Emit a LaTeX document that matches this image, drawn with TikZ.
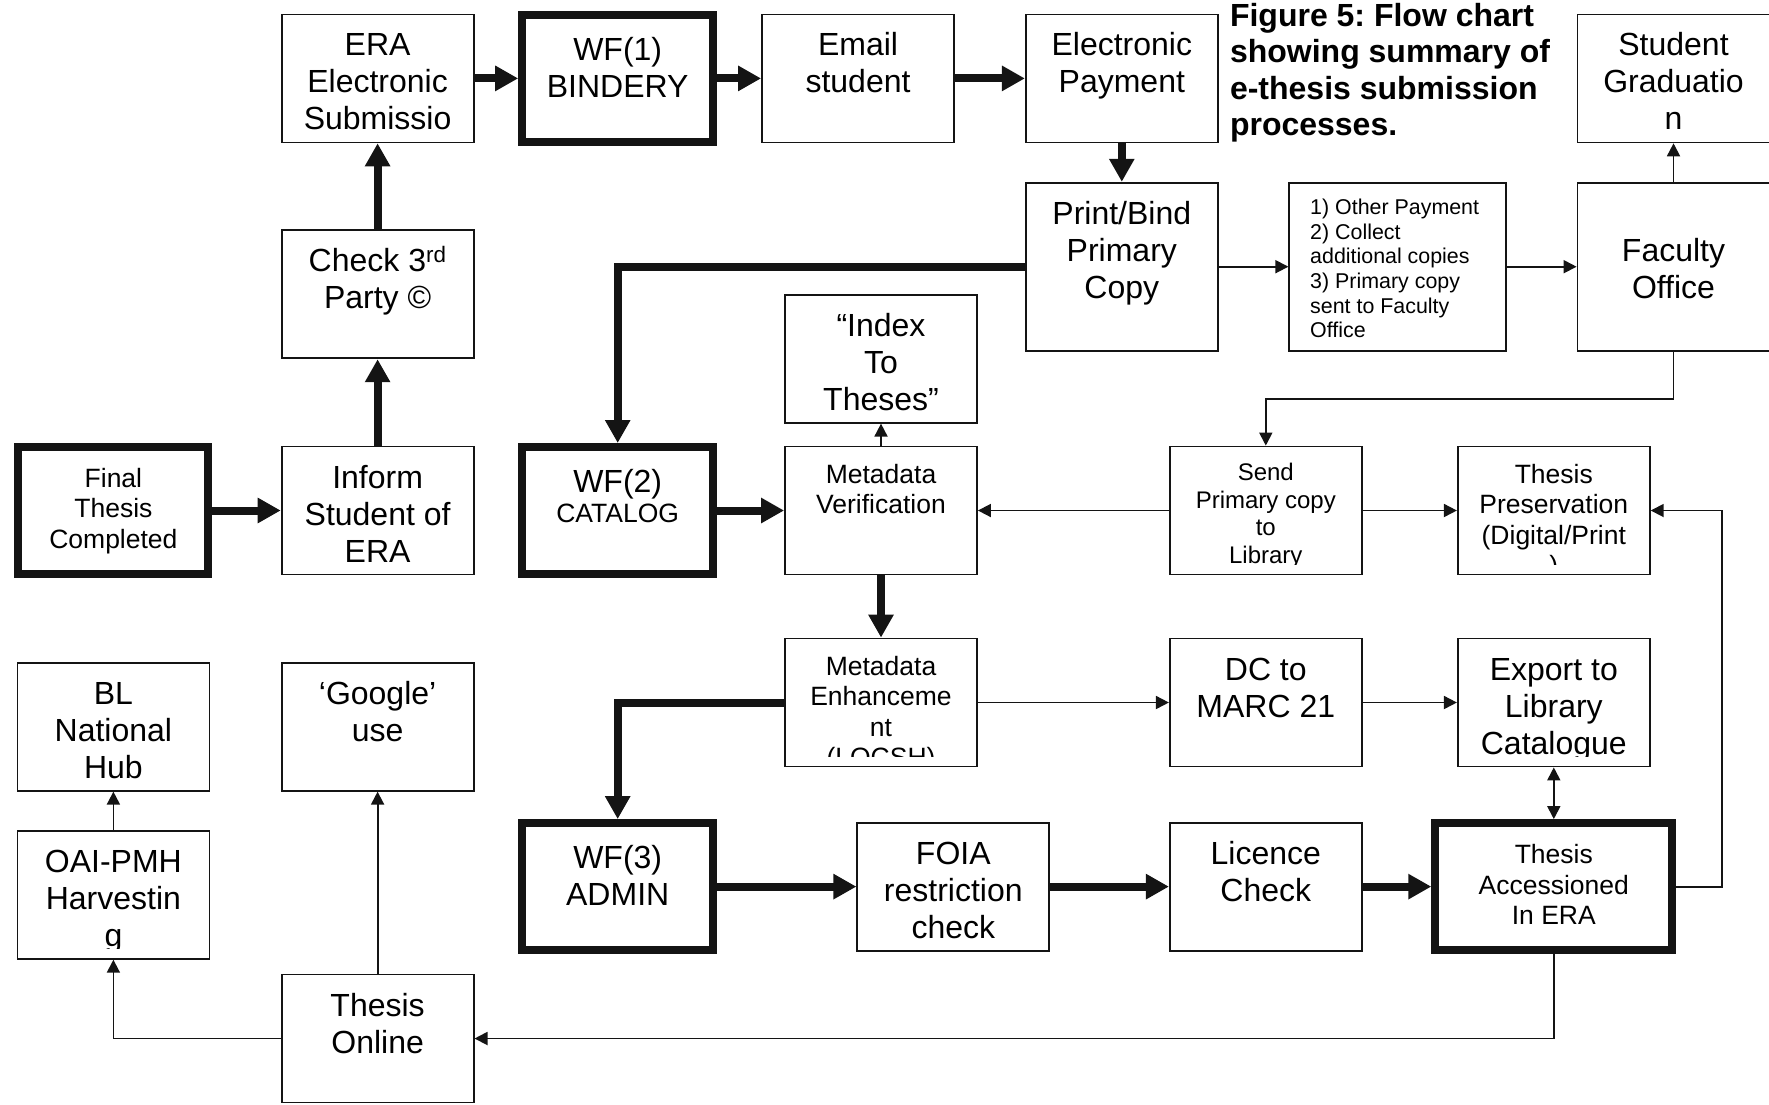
\documentclass[tikz,border=0pt]{standalone}
\usepackage{fontspec}
\setmainfont{Liberation Sans}
\usepackage{tikz}
\usetikzlibrary{arrows.meta,calc}
\frenchspacing
\definecolor{flowInk}{RGB}{20,20,20}
\newcommand{\flowbig}{\fontsize{32}{37}\selectfont}
\newcommand{\flowsmall}{\fontsize{26.5}{30.5}\selectfont}
\newcommand{\flowmid}{\fontsize{24}{27.4}\selectfont}
\newcommand{\flowtiny}{\fontsize{21.4}{24.6}\selectfont}
\newcommand{\flowcap}{\fontsize{32}{36.5}\selectfont\bfseries}
\newcommand{\flowbox}[5][]{%
  \node[box,#1] (#2) at #3 {};
  \begin{scope}
    \clip (#2.north west) rectangle ([yshift=11pt]#2.south east);
    \node[boxtext,#4] (#2-text) at (#2.north) {\rule{0pt}{.9em}#5};
  \end{scope}
}

\begin{document}
\begin{tikzpicture}[x=1pt,y=-1pt,
  box/.style={draw=flowInk,line width=1.8pt,minimum width=192pt,minimum height=128pt,inner sep=0pt},
  thickbox/.style={box,line width=8pt,minimum width=191pt,minimum height=127pt},
  boxtext/.style={anchor=north,align=center,inner sep=0pt,yshift=-13.4pt,font=\flowbig,text=black},
  flow/.style={draw=flowInk,line width=8pt,-{Triangle[length=23pt,width=24pt]}},
  link/.style={draw=flowInk,line width=1.8pt,-{Triangle[length=13pt,width=13pt]}},
  linkboth/.style={link,{Triangle[length=13pt,width=13pt]}-{Triangle[length=13pt,width=13pt]}}]
  \useasboundingbox (0,0) rectangle (1769,1104);
  \flowbox{era}{(377.6,78.4)}{}{ERA\\Electronic\\Submissio}
  \flowbox[thickbox]{wf1}{(617.7,78.4)}{yshift=-7pt}{WF(1)\\BINDERY}
  \flowbox{email}{(858,78.4)}{}{Email\\student}
  \flowbox{epay}{(1121.8,78.4)}{}{Electronic\\Payment}
  \flowbox{grad}{(1673.5,78.4)}{}{Student\\Graduatio\\n}
  \node[anchor=north west,align=left,inner sep=0pt,font=\flowcap] (caption) at (1229.8,3)
    {Figure 5: Flow chart\\showing summary of\\e-thesis submission\\processes.};
  \flowbox[minimum height=168pt]{print}{(1121.8,266.7)}{}{Print/Bind\\Primary\\Copy}
  \flowbox[minimum width=216.6pt,minimum height=168pt]{other}{(1397.6,266.7)}
    {anchor=north west,align=left,xshift=-87.6pt,font=\flowtiny}
    {1) Other Payment\\2) Collect\\additional copies\\3) Primary copy\\sent to Faculty\\Office}
  \flowbox[minimum height=168pt]{faculty}{(1673.5,266.7)}{yshift=-37.7pt}{Faculty\\Office}
  \flowbox{check}{(377.6,294.3)}{}{Check 3\textsuperscript{rd}\\Party ©}
  \flowbox{index}{(881,358.7)}{}{“Index\\To\\Theses”}
  \flowbox[thickbox,minimum width=190pt]{final}{(113.4,510.5)}{yshift=-7pt,font=\flowsmall}{Final\\Thesis\\Completed}
  \flowbox{inform}{(377.6,510.5)}{}{Inform\\Student of\\ERA}
  \flowbox[thickbox]{wf2}{(617.7,510.5)}{yshift=-7pt}{WF(2)\\[-6.5pt]{\flowsmall CATALOG}}
  \flowbox{metaver}{(881,510.5)}{font=\flowsmall}{Metadata\\Verification}
  \flowbox{send}{(1265.8,510.5)}{font=\flowmid}{Send\\Primary copy\\to\\Library}
  \flowbox{pres}{(1553.8,510.5)}{font=\flowsmall}{Thesis\\Preservation\\(Digital/Print\\)}
  \flowbox{bl}{(113.4,726.7)}{}{BL\\National\\Hub}
  \flowbox{google}{(377.6,726.7)}{}{‘Google’\\use}
  \flowbox{metaenh}{(881,702.5)}{font=\flowsmall}{Metadata\\Enhanceme\\nt\\(LOCSH)}
  \flowbox{dc}{(1265.8,702.5)}{}{DC to\\MARC 21}
  \flowbox{export}{(1553.8,702.5)}{}{Export to\\Library\\Catalogue}
  \flowbox{oai}{(113.4,894.8)}{}{OAI-PMH\\Harvestin\\g}
  \flowbox[thickbox]{wf3}{(617.7,886.6)}{yshift=-7pt}{WF(3)\\ADMIN}
  \flowbox{foia}{(953.3,886.6)}{}{FOIA\\restriction\\check}
  \flowbox{licence}{(1265.8,886.6)}{}{Licence\\Check}
  \flowbox[thickbox,minimum width=237pt]{acc}{(1553.8,886.6)}{yshift=-7pt,font=\flowsmall}{Thesis\\Accessioned\\In ERA}
  \flowbox{online}{(377.6,1038.5)}{}{Thesis\\Online}
  \draw[flow] (era) -- (wf1);
  \draw[flow] (wf1) -- (email);
  \draw[flow] (email) -- (epay);
  \draw[flow] (epay) -- (print);
  \draw[link] (print) -- (other);
  \draw[link] (other) -- (faculty);
  \draw[link] (faculty) -- (grad);
  \draw[link] (faculty.south) -- ++(0,47.6) -| (send.north);
  \draw[flow] (print.west) -| (wf2.north);
  \draw[flow] (final) -- (inform);
  \draw[flow] (inform) -- (check);
  \draw[flow] (check) -- (era);
  \draw[flow] (wf2) -- (metaver);
  \draw[link] (metaver) -- (index);
  \draw[link] (send) -- (metaver);
  \draw[link] (send) -- (pres);
  \draw[flow] (metaver) -- (metaenh);
  \draw[flow] (metaenh.west) -| (wf3.north);
  \draw[link] (metaenh) -- (dc);
  \draw[link] (dc) -- (export);
  \draw[linkboth] (export) -- (acc);
  \draw[flow] (wf3) -- (foia);
  \draw[flow] (foia) -- (licence);
  \draw[flow] (licence) -- (acc);
  \draw[link] (acc.east) -- ++(45.3,0) |- (pres.east);
  \draw[link] (acc.south) |- (online.east);
  \draw[link] (online.west) -| (oai.south);
  \draw[link] (online) -- (google);
  \draw[link] (oai) -- (bl);
\end{tikzpicture}
\end{document}
